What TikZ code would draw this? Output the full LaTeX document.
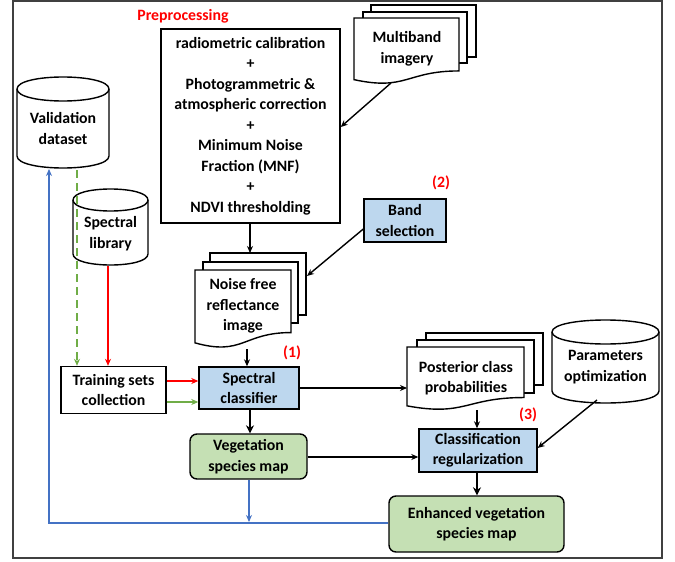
\documentclass[tikz,border=0pt]{standalone}
\usepackage{fontspec}
\setmainfont{Carlito}
\usetikzlibrary{arrows.meta}
\definecolor{boxblue}{HTML}{BDD7EE}
\definecolor{boxgreen}{HTML}{C5E0B4}
\definecolor{lineblue}{HTML}{4472C4}
\definecolor{linegreen}{HTML}{70AD47}
\newcommand\mydoc[4]{%
  \filldraw[fill=white] (#1,#2) -- (#3,#2) -- (#3,{#2+0.802*#4})
    .. controls ({(#1+#3)/2},{#2+0.802*#4}) and ({(#1+#3)/2},{#2+1.107*#4}) .. (#1,{#2+0.934*#4}) -- cycle;}
\newcommand\mycyl[5]{% l t r b ry
  \filldraw[fill=white] (#1,{#2+#5}) -- (#1,{#4-#5})
    .. controls (#1,{#4+#5/3}) and (#3,{#4+#5/3}) .. (#3,{#4-#5})
    -- (#3,{#2+#5})
    .. controls (#3,{#2-#5/3}) and (#1,{#2-#5/3}) .. (#1,{#2+#5}) -- cycle;
  \draw (#1,{#2+#5}) .. controls (#1,{#2+7*#5/3}) and (#3,{#2+7*#5/3}) .. (#3,{#2+#5});}
\begin{document}
\begin{tikzpicture}[x=1pt,y=-1pt,
  font=\bfseries\fontsize{15.8}{20.5}\selectfont,
  line width=1.4pt,
  >={Stealth[length=7pt,width=6pt]},
  box/.style={draw, align=center, inner sep=0pt},
  bluebox/.style={box, fill=boxblue},
  greenbox/.style={box, fill=boxgreen, rounded corners=7pt},
  lbl/.style={align=center, inner sep=0pt},
  redlbl/.style={text=red, inner sep=0pt},
  thickarrow/.style={->, line width=2.4pt, >={Stealth[length=8pt,width=8pt]}}]
\useasboundingbox (0,0) rectangle (675,562);
\draw[black!75, line width=1.2pt] (13,1) rectangle (662,558);

% Preprocessing
\node[redlbl] (prelbl) at (183,16) {Preprocessing};
\node[box, minimum width=179pt, minimum height=194pt] (pre) at (250.5,126)
  {radiometric calibration\\+\\Photogrammetric \&\\atmospheric correction\\+\\Minimum Noise\\Fraction (MNF)\\+\\NDVI thresholding};

% Multiband imagery
\filldraw[fill=white] (371,5) rectangle (476,57);
\filldraw[fill=white] (363,12) rectangle (467,63);
\mydoc{354}{18}{459}{66}
\node[lbl] (multi) at (407,49) {Multiband\\imagery};
\coordinate (multibot) at (391,83);

% Validation dataset
\mycyl{17}{77}{109}{168}{12}
\node[lbl] (valid) at (63,128.5) {Validation\\dataset};
\coordinate (validbotA) at (49,169);
\coordinate (validbotB) at (77,170);

% Spectral library
\mycyl{73}{189}{148}{265}{11}
\node[lbl] (speclib) at (110.5,233.5) {Spectral\\library};
\coordinate (speclibbot) at (108,266);

% Noise free reflectance image
\filldraw[fill=white] (210,253) rectangle (306,315);
\filldraw[fill=white] (203,262) rectangle (298,323);
\mydoc{195}{270}{291}{78}
\node[lbl] (noise) at (243,306) {Noise free\\reflectance\\image};
\coordinate (noisetop) at (250,253);
\coordinate (noisebot) at (247,349);
\coordinate (noiseright) at (307,276);

% Band selection
\node[bluebox, minimum width=82pt, minimum height=43pt] (band) at (405,220.5) {Band\\selection};
\node[redlbl] (lbltwo) at (441,183) {(2)};

% Training sets
\node[box, minimum width=105pt, minimum height=47pt] (train) at (113.5,390) {Training sets\\collection};

% Spectral classifier
\node[bluebox, minimum width=100pt, minimum height=42pt] (spec) at (249,388) {Spectral\\classifier};
\node[redlbl] (lblone) at (292,353) {(1)};

% Vegetation species map
\node[greenbox, minimum width=117pt, minimum height=45pt] (veg) at (248.5,456.5) {Vegetation\\species map};

% Posterior class probabilities
\filldraw[fill=white] (426,333) rectangle (543,385);
\filldraw[fill=white] (417,340) rectangle (534,393);
\mydoc{407}{347}{524}{63}
\node[lbl] (post) at (466,378) {Posterior class\\probabilities};
\coordinate (postleft) at (407,388);
\coordinate (postbot) at (477,410);

% Parameters optimization
\mycyl{552}{320}{659}{403}{12}
\node[lbl] (param) at (605.5,367) {Parameters\\optimization};
\coordinate (parambot) at (597,400);

% Classification regularization
\node[bluebox, minimum width=118pt, minimum height=43pt] (creg) at (478,450.5) {Classification\\regularization};
\node[redlbl] (lblthree) at (528,415) {(3)};

% Enhanced vegetation species map
\node[greenbox, minimum width=175pt, minimum height=56pt] (enh) at (476.5,524) {Enhanced vegetation\\species map};

% Connectors
\draw[->] (pre.south -| noisetop) -- (noisetop);
\draw[->] (multibot) -- (pre.east |- 0,127);
\draw[->] (band.west |- 0,229) -- (noiseright);
\draw[->] (noisebot) -- (spec.north -| noisebot);
\draw[thickarrow] (spec.south -| 250,0) -- (veg.north -| 250,0);
\draw[->, red] (train.east |- 0,381) -- (spec.west |- 0,381);
\draw[->, linegreen] (train.east |- 0,402) -- (spec.west |- 0,402);
\draw[->, linegreen, dash pattern=on 8pt off 5pt] (validbotB) -- (train.north -| validbotB);
\draw[->, red] (speclibbot) -- (train.north -| speclibbot);
\draw[->, lineblue] (veg.south -| 249,0) -- (249,522);
\draw[->, lineblue, line width=2pt] (enh.west |- 0,523) -- (49,523) -- (validbotA);
\draw[->] (spec.east |- postleft) -- (postleft);
\draw[->] (veg.east |- 0,457) -- (creg.west |- 0,457);
\draw[->] (postbot) -- (creg.north -| postbot);
\draw[->] (parambot) -- (creg.east |- 0,448);
\draw[thickarrow] (creg.south -| 477,0) -- (enh.north -| 477,0);
\end{tikzpicture}
\end{document}
